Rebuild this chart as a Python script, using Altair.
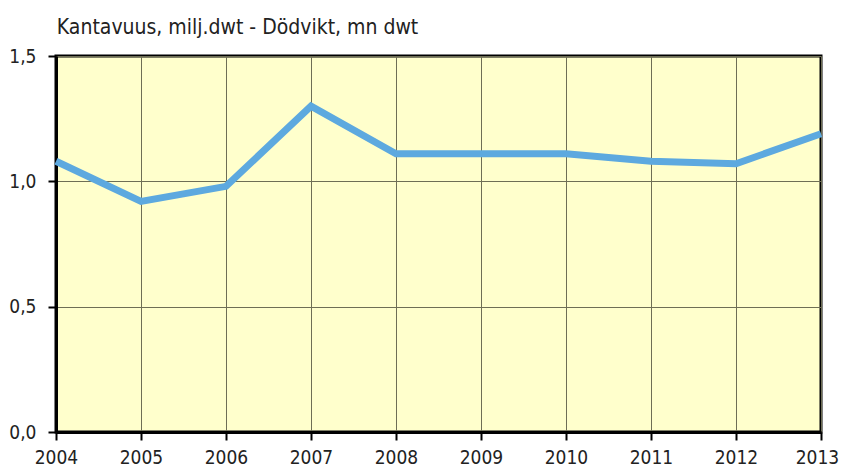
import altair as alt
import pandas as pd

years = [2004, 2005, 2006, 2007, 2008, 2009, 2010, 2011, 2012, 2013]
values = [1.08, 0.92, 0.98, 1.30, 1.11, 1.11, 1.11, 1.08, 1.07, 1.19]
y_ticks = [0.0, 0.5, 1.0, 1.5]
title_text = "Kantavuus, milj.dwt - Dödvikt, mn dwt"

df = pd.DataFrame({"year": years, "value": values})

FONT = "'Liberation Sans Narrow', 'Arial Narrow', 'DejaVu Sans Condensed', 'Roboto Condensed', 'Liberation Sans', sans-serif"

chart = alt.Chart(df).mark_line(color="#5DA9DF", strokeWidth=7, clip=False).encode(
    x=alt.X("year:Q",
            scale=alt.Scale(domain=[2004, 2013], nice=False, zero=False),
            axis=alt.Axis(values=years, format="d", title=None, grid=True,
                          gridColor="#6E6E55", gridWidth=1,
                          domainColor="black", domainWidth=3,
                          tickColor="black", tickWidth=2, tickSize=8,
                          labelFont=FONT, labelFontSize=19, labelColor="#222222",
                          labelBaseline="alphabetic",
                          labelOffset={"expr": "datum.value == 2013 ? -4 : 0"},
                          labelPadding=23, labelFlush=False, labelBound=False)),
    y=alt.Y("value:Q",
            scale=alt.Scale(domain=[0, 1.5], nice=False),
            axis=alt.Axis(values=y_ticks, title=None, grid=True,
                          labelExpr="replace(format(datum.value, '.1f'), '.', ',')",
                          gridColor="#6E6E55", gridWidth=1,
                          domainColor="black", domainWidth=3,
                          tickColor="black", tickWidth=2, tickSize=8,
                          labelFont=FONT, labelFontSize=19, labelColor="#222222",
                          labelPadding=12)),
).properties(
    width=765,
    height=376,
    padding={"left": 48, "top": 48, "right": 20, "bottom": 36},
    autosize=alt.AutoSizeParams(type="none"),
    title=alt.TitleParams(title_text, font=FONT, fontSize=21, fontWeight="normal",
                          color="#222222", anchor="start", offset=9, dx=48),
).configure_view(
    fill="#FFFFCC", stroke="black", strokeWidth=3
)

chart.save("out.html", embed_options={"renderer": "svg", "actions": False})
